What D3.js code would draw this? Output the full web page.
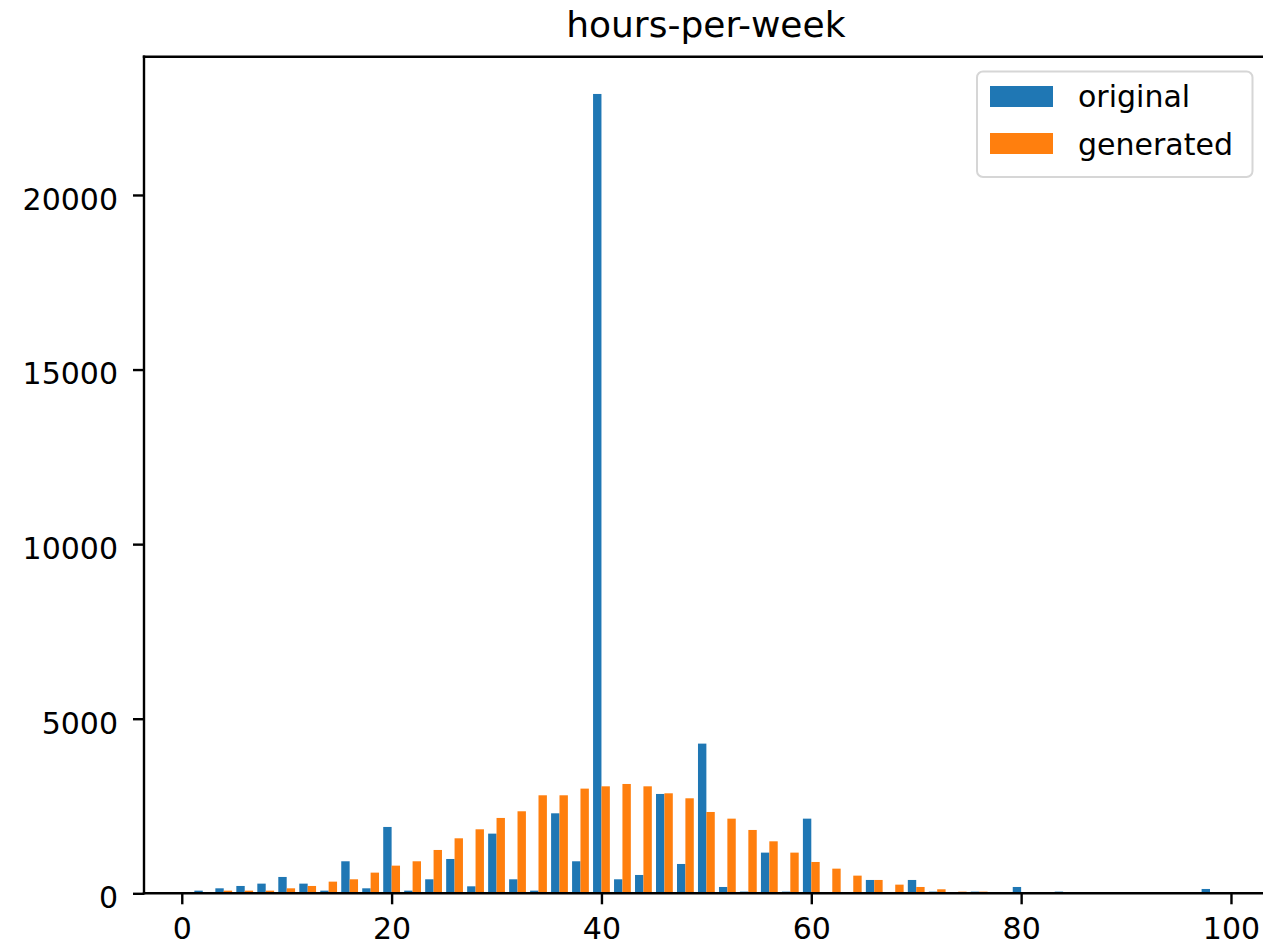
<!DOCTYPE html>
<meta charset="utf-8">
<head>
  <style>
    body { margin: 0; background: #fff; overflow: hidden; }
    svg { display: block; }
    .tick text { font-family: "DejaVu Sans", sans-serif; font-size: 30px; fill: #000; }
    .title { font-family: "DejaVu Sans", sans-serif; font-size: 36px; fill: #000; }
    .legend text { font-family: "DejaVu Sans", sans-serif; font-size: 30px; fill: #000; }
  </style>
  <script src="https://d3js.org/d3.v7.min.js"></script>
</head>
<body>
  <svg width="1263" height="948"></svg>
  <script>
    // left edge of each bin (width 2)
    var binStarts = [1, 3, 5, 7, 9, 11, 13, 15, 17, 19, 21, 23, 25, 27, 29, 31, 33, 35, 37, 39,
      41, 43, 45, 47, 49, 51, 53, 55, 57, 59, 61, 63, 65, 67, 69, 71, 73, 75, 77, 79,
      81, 83, 85, 87, 89, 91, 93, 95, 97];
    var binWidth = 2;

    var original = [76, 143, 210, 277, 468, 277, 76, 917, 143, 1900, 76, 401, 983, 200, 1709, 401, 76, 2291, 917, 22893,
      401, 525, 2845, 840, 4287, 181, 48, 1165, 48, 2138, 0, 0, 382, 0, 382, 48, 0, 48, 0, 181,
      0, 48, 0, 0, 0, 0, 0, 0, 124];
    var generated = [0, 76, 76, 76, 143, 210, 334, 401, 592, 792, 917, 1241, 1575, 1833, 2158, 2349, 2807, 2807, 2998, 3064,
      3131, 3064, 2864, 2721, 2329, 2138, 1814, 1489, 1165, 897, 706, 506, 382, 248, 181, 115, 48, 48, 0, 0,
      0, 0, 0, 0, 0, 0, 0, 0, 0];

    var seriesNames = ["original", "generated"];
    var colors = ["#1f77b4", "#ff7f0e"];
    var xTicks = [0, 20, 40, 60, 80, 100];
    var yTicks = [0, 5000, 10000, 15000, 20000];

    var svg = d3.select("svg");
    var plotL = 144, plotR = 1267.7, plotT = 56.7, plotB = 893.3;

    var x = d3.scaleLinear().domain([-3.6, 103.5]).range([plotL, plotR]);
    var y = d3.scaleLinear().domain([0, 23960]).range([plotB, plotT]);

    // bars: two side by side per bin, rwidth 0.8 like matplotlib
    var allSeries = [original, generated];
    allSeries.forEach(function(vals, s) {
      svg.append("g").selectAll("rect")
        .data(vals.map(function(v, i) { return { start: binStarts[i], v: v }; }).filter(function(d) { return d.v > 0; }))
        .enter().append("rect")
        .attr("x", function(d) { return x(d.start + binWidth * (0.1 + 0.4 * s)); })
        .attr("width", function(d) { return x(d.start + binWidth * (0.5 + 0.4 * s)) - x(d.start + binWidth * (0.1 + 0.4 * s)); })
        .attr("y", function(d) { return y(d.v); })
        .attr("height", function(d) { return y(0) - y(d.v); })
        .attr("fill", colors[s]);
    });

    // axes
    var xAxis = svg.append("g")
      .attr("transform", "translate(0," + plotB + ")")
      .call(d3.axisBottom(x).tickValues(xTicks).tickSize(11).tickPadding(13).tickFormat(d3.format("d")));
    xAxis.select(".domain").remove();
    xAxis.selectAll(".tick line").attr("stroke", "#000").attr("stroke-width", 2.4);

    var yAxis = svg.append("g")
      .attr("transform", "translate(" + plotL + ",0)")
      .call(d3.axisLeft(y).tickValues(yTicks).tickSize(11).tickPadding(15).tickFormat(d3.format("d")));
    yAxis.select(".domain").remove();
    yAxis.selectAll(".tick line").attr("stroke", "#000").attr("stroke-width", 2.4);
    yAxis.selectAll(".tick text").attr("dy", "0.48em");

    // spines (right one falls outside the picture)
    var spines = [[plotL, plotT, plotR, plotT], [plotL, plotB, plotR, plotB], [plotL, plotT, plotL, plotB]];
    svg.append("g").selectAll("line")
      .data(spines)
      .enter().append("line")
      .attr("x1", function(d) { return d[0]; })
      .attr("y1", function(d) { return d[1]; })
      .attr("x2", function(d) { return d[2]; })
      .attr("y2", function(d) { return d[3]; })
      .attr("stroke", "#000").attr("stroke-width", 2.4)
      .attr("stroke-linecap", "square");

    svg.append("text")
      .attr("class", "title")
      .attr("x", (plotL + plotR) / 2)
      .attr("y", 37)
      .attr("text-anchor", "middle")
      .text("hours-per-week");

    // legend
    var legend = svg.append("g").attr("class", "legend");
    legend.append("rect")
      .attr("x", 977).attr("y", 71.5)
      .attr("width", 275.5).attr("height", 105.5)
      .attr("rx", 6).attr("ry", 6)
      .attr("fill", "#fff").attr("fill-opacity", 0.8)
      .attr("stroke", "#d6d6d6").attr("stroke-width", 2);
    seriesNames.forEach(function(name, i) {
      legend.append("rect")
        .attr("x", 990).attr("y", 86 + i * 47)
        .attr("width", 63).attr("height", 21)
        .attr("fill", colors[i]);
      legend.append("text")
        .attr("x", 1078).attr("y", 107 + i * 48)
        .text(name);
    });
  </script>
</body>
